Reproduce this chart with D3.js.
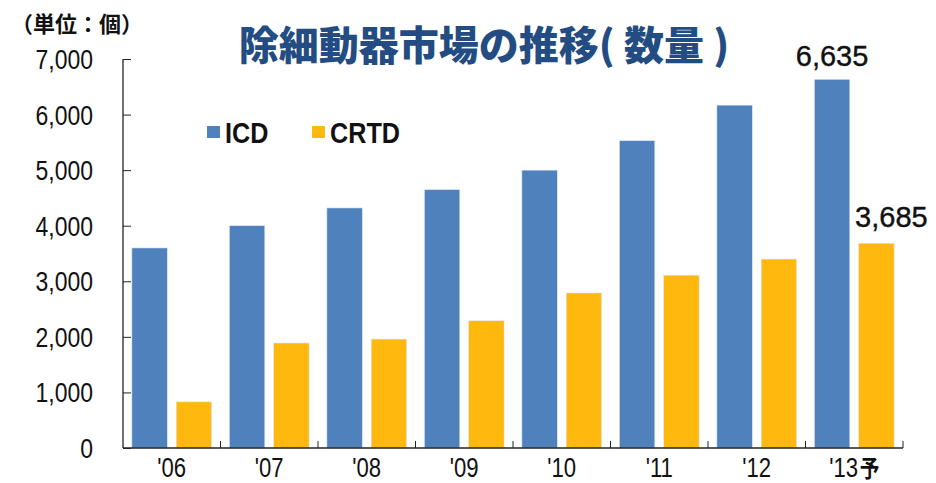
<!DOCTYPE html>
<html>
<head>
<meta charset="utf-8">
<script src="https://cdn.jsdelivr.net/npm/d3@7"></script>
<style>
  body { margin: 0; background: #fff; }
  .narrow { font-family: "Liberation Sans", Arial, sans-serif; }
</style>
</head>
<body>
<svg id="chart" width="936" height="483"></svg>
<script>
var years = ["'06", "'07", "'08", "'09", "'10", "'11", "'12", "'13予"];
var icd = [3600, 4000, 4320, 4650, 5000, 5530, 6170, 6635];
var crtd = [830, 1890, 1960, 2290, 2790, 3110, 3400, 3685];
var yTicks = [0, 1000, 2000, 3000, 4000, 5000, 6000, 7000];
var seriesNames = ['ICD', 'CRTD'];
var colors = ['#4f81bd', '#ffb80d'];

(function() {
  var svg = d3.select('#chart');

  var m = { left: 123, right: 903, top: 59, bottom: 448 };
  var squeeze = 0.82; // the original uses a condensed face

  var x = d3.scaleBand()
    .domain(years)
    .range([m.left, m.right]);

  var x1 = d3.scaleBand()
    .domain(seriesNames)
    .range([0, x.bandwidth()])
    .paddingInner(0.2)
    .paddingOuter(0.2);

  var y = d3.scaleLinear()
    .domain([0, 7000])
    .range([m.bottom, m.top]);

  // bars
  var groups = svg.selectAll('g.year')
    .data(years)
    .enter()
    .append('g')
    .attr('class', 'year')
    .attr('transform', function(d) { return 'translate(' + x(d) + ',0)'; });

  groups.selectAll('rect')
    .data(function(d, i) { return [icd[i], crtd[i]]; })
    .enter()
    .append('rect')
    .attr('x', function(d, i) { return x1(seriesNames[i]); })
    .attr('y', function(d) { return y(d); })
    .attr('width', x1.bandwidth())
    .attr('height', function(d) { return y(0) - y(d); })
    .attr('fill', function(d, i) { return colors[i]; })
    .attr('stroke', '#dfe8f3')
    .attr('stroke-width', 0.6);

  // y axis
  var yAxis = svg.append('g')
    .attr('transform', 'translate(' + m.left + ',0)')
    .call(d3.axisRight(y).tickValues(yTicks).tickSize(8).tickFormat(''));
  yAxis.select('.domain').attr('stroke', '#222').attr('stroke-width', 1.3).attr('d', 'M0,' + m.top + 'V' + m.bottom);
  yAxis.selectAll('.tick line').attr('stroke', '#222');

  svg.selectAll('text.ylabel')
    .data(yTicks)
    .enter()
    .append('text')
    .attr('class', 'ylabel narrow')
    .attr('transform', function(d) { return 'translate(93,' + (y(d) + 10) + ') scale(' + squeeze + ',1)'; })
    .attr('text-anchor', 'end')
    .attr('font-size', 28)
    .attr('fill', '#111')
    .text(d3.format(','));

  // x axis
  var xAxis = svg.append('g')
    .attr('transform', 'translate(0,' + m.bottom + ')')
    .call(d3.axisTop(x).tickSize(0).tickFormat(''));
  xAxis.select('.domain').attr('stroke', '#222').attr('stroke-width', 1.3).attr('d', 'M' + m.left + ',0H' + m.right);

  svg.selectAll('line.xtick')
    .data(years)
    .enter()
    .append('line')
    .attr('class', 'xtick')
    .attr('x1', function(d) { return x(d) + x.bandwidth(); })
    .attr('x2', function(d) { return x(d) + x.bandwidth(); })
    .attr('y1', m.bottom)
    .attr('y2', m.bottom - 7)
    .attr('stroke', '#222');

  svg.selectAll('text.xlabel')
    .data(years)
    .enter()
    .append('text')
    .attr('class', 'xlabel narrow')
    .attr('transform', function(d) { return 'translate(' + (x(d) + x.bandwidth() / 2) + ',477) scale(' + squeeze + ',1)'; })
    .attr('text-anchor', 'middle')
    .attr('font-size', 27)
    .attr('fill', '#111')
    .text(function(d) { return d.replace('予', ''); })
    .filter(function(d) { return d.indexOf('予') >= 0; })
    .append('tspan')
    .attr('dx', 2)
    .attr('font-family', '"Noto Sans CJK JP", sans-serif')
    .attr('font-size', 24)
    .attr('font-weight', 'bold')
    .text('予');

  // value labels on last year
  var last = years.length - 1;
  svg.append('text')
    .attr('x', x(years[last]) + x1('ICD') + x1.bandwidth() / 2)
    .attr('y', 66)
    .attr('text-anchor', 'middle')
    .attr('font-family', '"Liberation Sans", sans-serif')
    .attr('font-size', 29)
    .attr('fill', '#111')
    .attr('stroke', '#111')
    .attr('stroke-width', 0.4)
    .text(d3.format(',')(icd[last]));

  svg.append('text')
    .attr('x', x(years[last]) + x1('CRTD') + x1.bandwidth() / 2 + 15)
    .attr('y', 227)
    .attr('text-anchor', 'middle')
    .attr('font-family', '"Liberation Sans", sans-serif')
    .attr('font-size', 29)
    .attr('fill', '#111')
    .attr('stroke', '#111')
    .attr('stroke-width', 0.4)
    .text(d3.format(',')(crtd[last]));

  // legend
  var legendX = [207, 312];
  var legend = svg.selectAll('g.legend')
    .data(seriesNames)
    .enter()
    .append('g')
    .attr('class', 'legend')
    .attr('transform', function(d, i) { return 'translate(' + legendX[i] + ',126)'; });

  legend.append('rect')
    .attr('width', 13)
    .attr('height', 12)
    .attr('fill', function(d, i) { return colors[i]; });

  legend.append('text')
    .attr('class', 'narrow')
    .attr('transform', 'translate(18,17) scale(0.84,1)')
    .attr('font-size', 30)
    .attr('font-weight', 'bold')
    .attr('fill', '#111')
    .text(function(d) { return d; });

  // title and unit
  svg.append('text')
    .attr('x', 484)
    .attr('y', 60)
    .attr('text-anchor', 'middle')
    .attr('font-family', '"Noto Sans CJK JP", sans-serif')
    .attr('font-size', 40)
    .attr('font-weight', 900)
    .attr('fill', '#234d82')
    .text('除細動器市場の推移( 数量 )');

  svg.append('text')
    .attr('x', 11)
    .attr('y', 32)
    .attr('font-family', '"Noto Sans CJK JP", sans-serif')
    .attr('font-size', 22)
    .attr('font-weight', 'bold')
    .attr('fill', '#111')
    .text('（単位：個）');
})();
</script>
</body>
</html>
